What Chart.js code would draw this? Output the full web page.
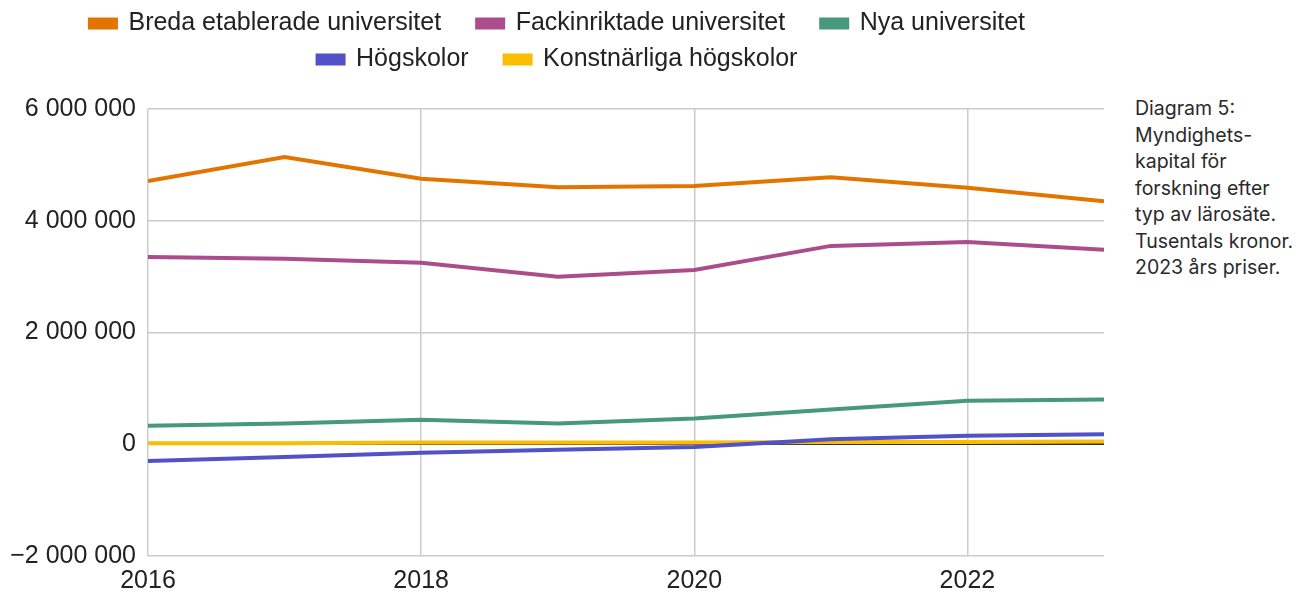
<!DOCTYPE html>
<html lang="sv">
<head>
<meta charset="utf-8">
<title>Myndighetskapital för forskning</title>
<script src="https://cdn.jsdelivr.net/npm/chart.js@4.4.1/dist/chart.umd.min.js"></script>
<style>
  html, body { margin: 0; padding: 0; background: #fff; overflow: hidden; }
  #wrap { position: relative; width: 1298px; height: 591px; overflow: hidden; }
  #box { position: absolute; left: 0; top: 0; width: 1116px; height: 606px; }
  #note {
    position: absolute; left: 1135px; top: 95px; width: 165px;
    font-family: 'Inter', sans-serif; font-size: 19.5px; line-height: 26.5px; color: #2a2a2a;
  }
</style>
</head>
<body>
<div id="wrap">
  <div id="box"><canvas id="chart"></canvas></div>
  <div id="note">Diagram 5:<br>Myndighets-<br>kapital för<br>forskning efter<br>typ av lärosäte.<br>Tusentals kronor.<br>2023 års priser.</div>
</div>
<script>
/* ── Data (tusentals kronor) ─────────────────────────────── */
const years = [2016, 2017, 2018, 2019, 2020, 2021, 2022, 2023];
const breda = [4710000, 5140000, 4750000, 4600000, 4620000, 4780000, 4590000, 4350000];
const fackinriktade = [3350000, 3320000, 3250000, 3000000, 3120000, 3550000, 3620000, 3480000];
const nya = [330000, 370000, 440000, 370000, 460000, 620000, 780000, 800000];
const hogskolor = [-300000, -230000, -150000, -100000, -50000, 90000, 150000, 180000];
const konstnarliga = [20000, 20000, 30000, 30000, 30000, 40000, 40000, 50000];

const seriesNames = ['Breda etablerade universitet', 'Fackinriktade universitet', 'Nya universitet', 'Högskolor', 'Konstnärliga högskolor'];
const seriesData = [breda, fackinriktade, nya, hogskolor, konstnarliga];
const seriesColors = ['#e37400', '#ab4d8d', '#46997a', '#5252c8', '#fbbc04'];

const yTicks = [-2000000, 0, 2000000, 4000000, 6000000];
const xTicks = [2016, 2018, 2020, 2022];

function fmt(v) {
  const s = Math.abs(v).toString().replace(/\B(?=(\d{3})+(?!\d))/g, ' ');
  return (v < 0 ? '\u2212' : '') + s;
}

const datasets = seriesNames.map((name, i) => ({
  label: name,
  data: years.map((y, j) => ({ x: y, y: seriesData[i][j] })),
  borderColor: seriesColors[i],
  backgroundColor: seriesColors[i],
  borderWidth: 4,
  pointRadius: 0,
  tension: 0,
  fill: false
}));

const FONT = "'Liberation Sans', Arial, sans-serif";

/* extra room under the legend, and nudge it right (trailing spaces skew centring) */
const legendTweak = {
  id: 'legendTweak',
  beforeInit(chart) {
    const origFit = chart.legend.fit;
    chart.legend.fit = function () {
      origFit.bind(chart.legend)();
      this.height += 27;
    };
  },
  afterLayout(chart) {
    chart.legend.left += 13;
    chart.legend.right += 13;
  }
};

new Chart(document.getElementById('chart'), {
  type: 'line',
  data: { datasets },
  plugins: [legendTweak],
  options: {
    responsive: true, maintainAspectRatio: false, animation: false,
    layout: { padding: { top: 0, right: 12, bottom: 0, left: 10 } },
    plugins: {
      legend: {
        position: 'top',
        labels: {
          font: { family: FONT, size: 25 },
          color: '#222',
          boxWidth: 26, boxHeight: 8,
          padding: 11,
          generateLabels: chart => Chart.defaults.plugins.legend.labels.generateLabels(chart)
            .map(l => ({ ...l, text: l.text + '\u2003' }))
        }
      },
      tooltip: { enabled: false }
    },
    scales: {
      x: {
        type: 'linear', min: 2016, max: 2023,
        afterBuildTicks: axis => { axis.ticks = xTicks.map(v => ({ value: v })); },
        ticks: { font: { family: FONT, size: 25 }, color: '#222', callback: v => String(v), padding: 10, maxRotation: 0 },
        grid: { color: '#cccccc', lineWidth: 1.5, drawTicks: false },
        border: { display: false }
      },
      y: {
        min: -2000000, max: 6000000,
        afterBuildTicks: axis => { axis.ticks = yTicks.map(v => ({ value: v })); },
        afterFit: axis => { axis.width = 138; },
        ticks: { font: { family: FONT, size: 25 }, color: '#222', callback: v => fmt(v), padding: 12 },
        grid: {
          color: c => (c.tick && c.tick.value === 0) ? '#333333' : '#cccccc',
          lineWidth: c => (c.tick && c.tick.value === 0) ? 2 : 1.5,
          drawTicks: false
        },
        border: { display: false }
      }
    }
  }
});
</script>
</body>
</html>
